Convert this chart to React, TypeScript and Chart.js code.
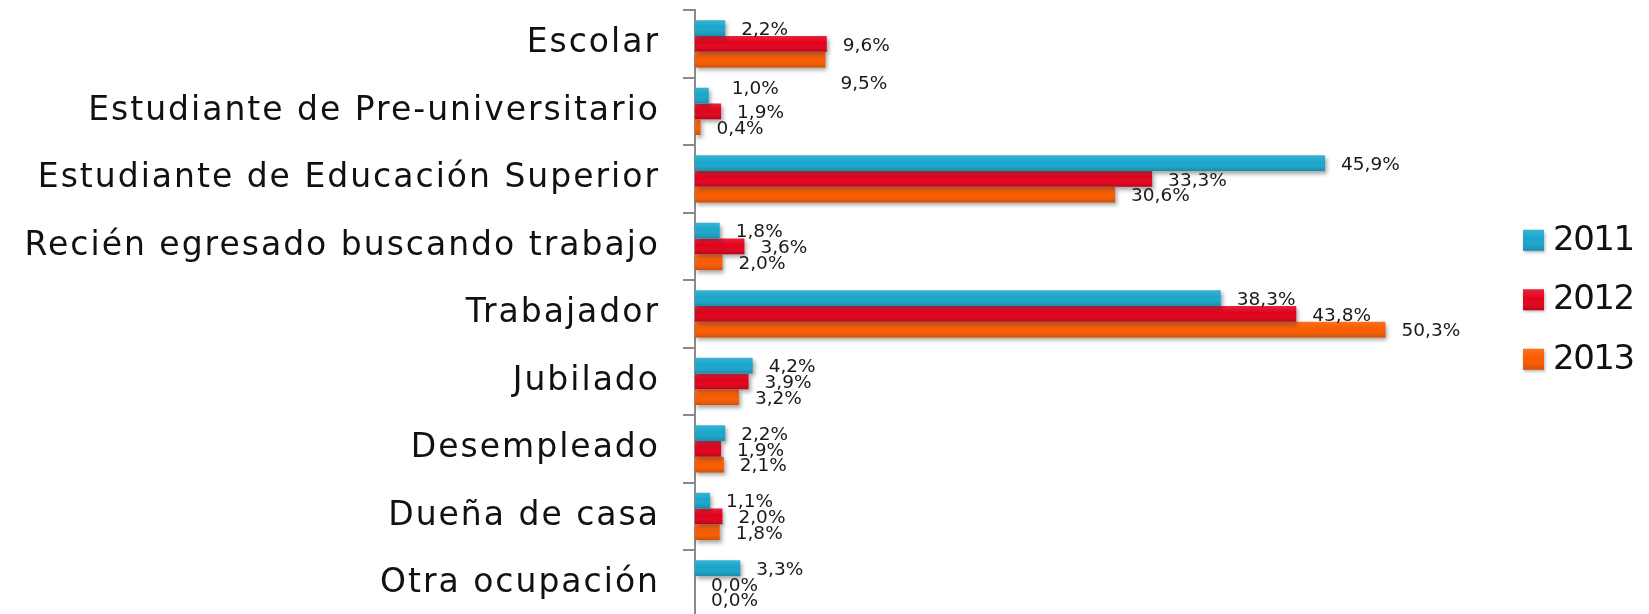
import React, { useEffect, useRef } from "react";
import { Chart, registerables } from "chart.js";

Chart.register(...registerables);

const categories = [
  "Escolar",
  "Estudiante de Pre-universitario",
  "Estudiante de Educación Superior",
  "Recién egresado buscando trabajo",
  "Trabajador",
  "Jubilado",
  "Desempleado",
  "Dueña de casa",
  "Otra ocupación",
];
const seriesNames = ["2011", "2012", "2013"];
const values2011 = [2.2, 1.0, 45.9, 1.8, 38.3, 4.2, 2.2, 1.1, 3.3];
const values2012 = [9.6, 1.9, 33.3, 3.6, 43.8, 3.9, 1.9, 2.0, 0.0];
const values2013 = [9.5, 0.4, 30.6, 2.0, 50.3, 3.2, 2.1, 1.8, 0.0];
const seriesColors = ["#19a6cc", "#e3001b", "#fb5b00"];

// label nudges (series-category) for labels moved by hand in the original
const labelNudges: Record<string, [number, number]> = {
  "2-0": [-1, 23],
  "0-1": [7, -8],
};

const FONT = "'DejaVu Sans', sans-serif";

function fmt(v: number) {
  return v.toFixed(1).replace(".", ",") + "%";
}

function overlay(ctx: CanvasRenderingContext2D, x: number, y: number, w: number, h: number) {
  const g = ctx.createLinearGradient(0, y, 0, y + h);
  g.addColorStop(0, "rgba(255,255,255,0.14)");
  g.addColorStop(0.45, "rgba(255,255,255,0)");
  g.addColorStop(1, "rgba(0,0,0,0.16)");
  ctx.fillStyle = g;
  ctx.fillRect(x, y, w, h);
}

const stylePlugin = {
  id: "stylePlugin",
  beforeDraw(chart: any) {
    (chart.ctx as any).letterSpacing = "2px";
  },
  beforeDatasetsDraw(chart: any) {
    const c = chart.ctx as CanvasRenderingContext2D;
    c.save();
    (c as any).letterSpacing = "0px";
    c.shadowColor = "rgba(0,0,0,0.35)";
    c.shadowBlur = 4;
    c.shadowOffsetX = 2;
    c.shadowOffsetY = 3;
  },
  afterDatasetsDraw(chart: any) {
    const c = chart.ctx as CanvasRenderingContext2D;
    c.restore();
    c.save();
    (c as any).letterSpacing = "0px";
    chart.data.datasets.forEach((ds: any, di: number) => {
      const meta = chart.getDatasetMeta(di);
      meta.data.forEach((el: any) => {
        const { x, y, base, height } = el.getProps(["x", "y", "base", "height"], true);
        const left = Math.min(x, base);
        const w = Math.abs(x - base);
        if (w > 0) overlay(c, left, y - height / 2, w, height);
      });
    });
    c.font = `18.5px ${FONT}`;
    c.fillStyle = "#1a1a1a";
    c.textAlign = "left";
    c.textBaseline = "middle";
    chart.data.datasets.forEach((ds: any, di: number) => {
      const meta = chart.getDatasetMeta(di);
      meta.data.forEach((el: any, i: number) => {
        const { x, y } = el.getProps(["x", "y"], true);
        const n = labelNudges[`${di}-${i}`] || [0, 0];
        c.fillText(fmt(ds.data[i]), x + 16 + n[0], y + 2 + n[1]);
      });
    });
    c.restore();
  },
  afterDraw(chart: any) {
    const c = chart.ctx as CanvasRenderingContext2D;
    const area = chart.chartArea;
    c.save();
    (c as any).letterSpacing = "-1.5px";
    const cy = (area.top + area.bottom) / 2;
    const lx = area.right + 73;
    chart.data.datasets.forEach((ds: any, di: number) => {
      const yc = cy - 74 + di * 59.5;
      c.save();
      c.shadowColor = "rgba(0,0,0,0.3)";
      c.shadowBlur = 3;
      c.shadowOffsetX = 1;
      c.shadowOffsetY = 2;
      c.fillStyle = ds.backgroundColor;
      c.fillRect(lx, yc - 10, 21, 21);
      c.restore();
      overlay(c, lx, yc - 10, 21, 21);
      c.font = `34px ${FONT}`;
      c.fillStyle = "#111";
      c.textAlign = "left";
      c.textBaseline = "middle";
      c.fillText(ds.label, lx + 30, yc + 1);
    });
    c.restore();
  },
};

export default function App() {
  const ref = useRef<HTMLCanvasElement | null>(null);
  useEffect(() => {
    if (!ref.current) return;
    const seriesValues = [values2011, values2012, values2013];
    const chart = new Chart(ref.current, {
      type: "bar",
      data: {
        labels: categories,
        datasets: seriesNames.map((name, i) => ({
          label: name,
          data: seriesValues[i],
          backgroundColor: seriesColors[i],
          borderWidth: 0,
          categoryPercentage: 0.7,
          barPercentage: 1,
        })),
      },
      options: {
        indexAxis: "y",
        animation: false,
        responsive: false,
        events: [],
        layout: { padding: { top: 10, bottom: 2.5, left: 0, right: 199 } },
        plugins: {
          legend: { display: false },
          tooltip: { enabled: false },
        },
        scales: {
          x: { display: false, min: 0, max: 55 },
          y: {
            type: "category",
            position: "left",
            offset: true,
            grid: {
              display: true,
              drawOnChartArea: false,
              drawTicks: true,
              tickLength: 12,
              offset: true,
              color: "#8a8a8a",
              lineWidth: 2,
            },
            border: { display: true, color: "#8a8a8a", width: 2 },
            ticks: {
              padding: 23,
              color: "#111",
              autoSkip: false,
              font: { family: FONT, size: 33 },
            },
            afterFit: (s: any) => {
              s.width = 695;
              s.paddingTop = 0;
              s.paddingBottom = 0;
            },
          },
        },
      } as any,
      plugins: [stylePlugin],
    });
    return () => chart.destroy();
  }, []);
  return (
    <div
      style={{
        position: "fixed",
        left: 0,
        top: 0,
        width: 1649,
        height: 614,
        overflow: "hidden",
        background: "#fff",
      }}
    >
      <canvas ref={ref} width={1649} height={620} style={{ display: "block" }} />
    </div>
  );
}
